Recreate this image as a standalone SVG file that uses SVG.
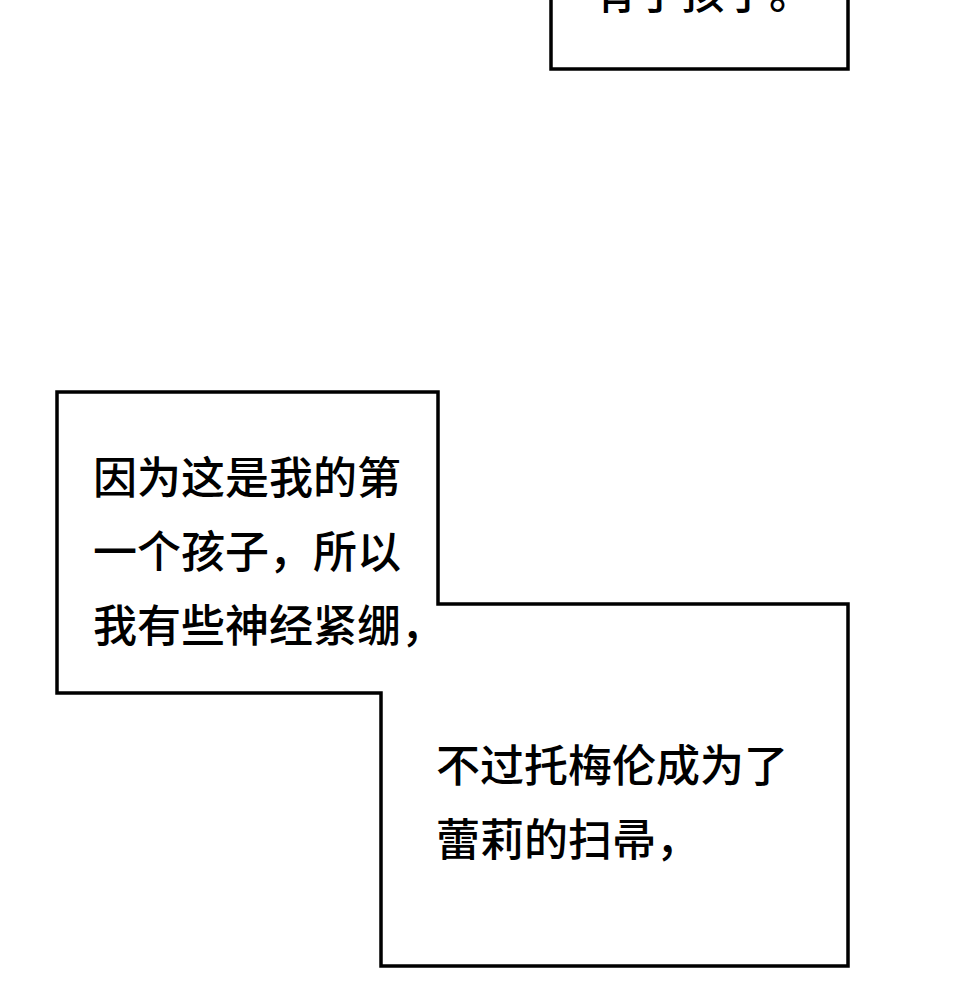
<svg xmlns="http://www.w3.org/2000/svg" width="970" height="1000" viewBox="0 0 970 1000">
<style>
.b{fill:#fff;stroke:#000;stroke-width:3.5;stroke-linejoin:miter}
.t{font-family:"Noto Sans CJK SC","Noto Sans",sans-serif;font-size:44px;font-weight:500;fill:#000}
</style>
<rect width="970" height="1000" fill="#fff"/>
<g id="box-top">
<rect class="b" x="551" y="-10" width="297" height="79"/>
<text class="t" x="593" y="9" font-size="40">有了孩子。</text>
</g>
<g id="box-main">
<polygon class="b" points="57,392 438,392 438,604 848,604 848,966 381,966 381,693 57,693"/>
<text class="t" x="93" y="494">因为这是我的第</text>
<text class="t" x="93" y="568">一个孩子，所以</text>
<text class="t" x="93" y="642">我有些神经紧绷，</text>
<text class="t" x="436" y="782">不过托梅伦成为了</text>
<text class="t" x="436" y="856">蕾莉的扫帚，</text>
</g>
<g id="connectors"/>
</svg>
